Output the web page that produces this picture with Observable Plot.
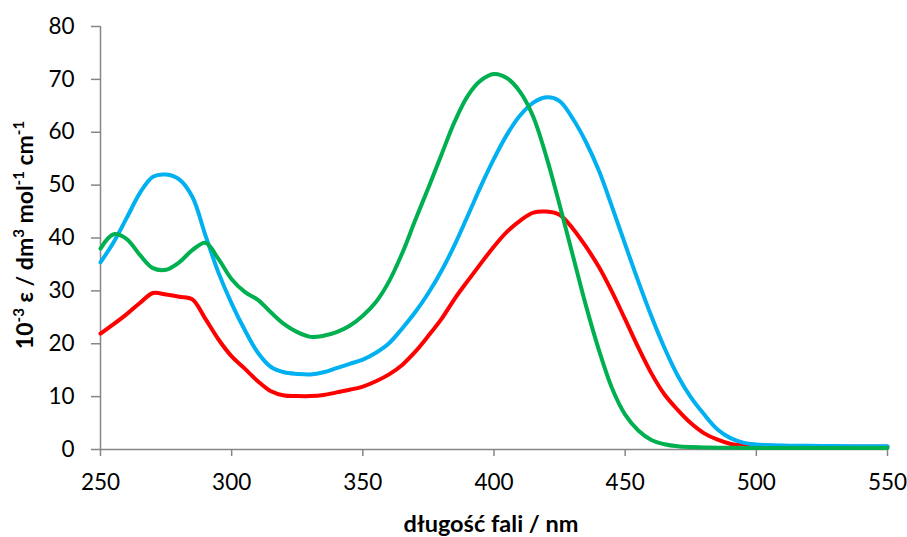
<!DOCTYPE html>
<html>
<head>
<meta charset="utf-8">
<script src="https://cdn.jsdelivr.net/npm/d3@7"></script>
<script src="https://cdn.jsdelivr.net/npm/@observablehq/plot@0.6"></script>
<style>
  html, body { margin: 0; padding: 0; background: #fff; }
  #chart svg { display: block; }
</style>
</head>
<body>
<div id="chart"></div>
<script>
// Wavelength grid (nm)
const wavelength = [250,255,260,265,270,275,280,285,290,295,300,305,310,315,320,325,330,335,340,345,350,355,360,365,370,375,380,385,390,395,400,405,410,415,420,425,430,435,440,445,450,455,460,465,470,475,480,485,490,495,500,510,520,530,540,550];

// 10^-3 ε values for each series
const blueSeries = [35.4,39.2,43.8,48.5,51.6,52.0,51.1,47.8,40.5,33.4,27.6,22.6,18.3,15.6,14.6,14.3,14.2,14.6,15.4,16.2,17.0,18.3,20.1,22.9,26.0,29.6,33.8,38.7,44.2,49.8,55.0,59.6,63.2,65.6,66.6,65.9,62.6,58.2,52.7,45.9,38.8,31.8,25.2,19.2,14.0,9.9,6.7,3.9,2.2,1.3,0.95,0.75,0.7,0.65,0.6,0.6];
const redSeries = [21.9,23.7,25.6,27.7,29.6,29.3,28.9,28.4,24.7,20.8,17.6,15.3,12.9,11.0,10.2,10.1,10.1,10.3,10.8,11.3,11.9,12.9,14.2,16.0,18.5,21.5,24.7,28.5,31.9,35.2,38.4,41.2,43.3,44.8,45.0,44.4,41.8,38.4,34.5,29.8,24.6,19.3,14.4,10.4,7.5,5.0,3.1,1.9,1.1,0.75,0.6,0.55,0.5,0.5,0.5,0.5];
const greenSeries = [38.0,40.7,39.8,36.8,34.3,34.0,35.4,37.7,39.1,36.0,32.2,29.8,28.3,25.9,23.7,22.2,21.3,21.5,22.2,23.4,25.3,27.9,31.8,37.1,43.4,49.5,55.8,62.0,66.9,69.8,71.0,70.2,67.6,62.9,55.3,46.3,36.8,27.3,18.8,11.6,6.6,3.6,1.8,1.0,0.6,0.45,0.4,0.35,0.35,0.3,0.3,0.3,0.3,0.3,0.3,0.3];

const xTicks = [250,300,350,400,450,500,550];
const yTicks = [0,10,20,30,40,50,60,70,80];

const xTitle = "długość fali / nm";

const toRows = (vals) => wavelength.map((w, i) => ({wl: w, v: vals[i]}));

const axisGray = "#868686";
const fontStack = "Lato, 'Open Sans', sans-serif";

const chart = Plot.plot({
  width: 907,
  height: 537,
  marginLeft: 100,
  marginRight: 20,
  marginTop: 26,
  marginBottom: 88,
  style: {fontFamily: fontStack, background: "#fff", color: "#000"},
  x: {domain: [250, 550]},
  y: {domain: [0, 80]},
  marks: [
    Plot.axisX({ticks: xTicks, tickSize: 7, tickPadding: 18, stroke: axisGray, fill: "#000", fontSize: 22.5, label: null, strokeWidth: 1.5}),
    Plot.axisY({ticks: yTicks, tickSize: 9, tickPadding: 17, stroke: axisGray, fill: "#000", fontSize: 22.5, label: null, strokeWidth: 1.5}),
    Plot.ruleY([0], {stroke: axisGray, strokeWidth: 1.5}),
    Plot.ruleX([250], {stroke: axisGray, strokeWidth: 1.5}),
    Plot.line(toRows(redSeries), {x: "wl", y: "v", stroke: "#FF0000", strokeWidth: 4, curve: "catmull-rom"}),
    Plot.line(toRows(blueSeries), {x: "wl", y: "v", stroke: "#00B0F0", strokeWidth: 4, curve: "catmull-rom"}),
    Plot.line(toRows(greenSeries), {x: "wl", y: "v", stroke: "#00B050", strokeWidth: 4, curve: "catmull-rom"})
  ]
});

document.getElementById("chart").appendChild(chart);

const svg = d3.select(chart);

// x-axis title
svg.append("text")
  .attr("x", 491)
  .attr("y", 532)
  .attr("text-anchor", "middle")
  .attr("font-family", fontStack)
  .attr("font-weight", "bold")
  .attr("font-size", 23.5)
  .attr("fill", "#000")
  .text(xTitle);

// y-axis title with superscripts
const yt = svg.append("text")
  .attr("transform", "translate(33,235) rotate(-90)")
  .attr("text-anchor", "middle")
  .attr("font-family", fontStack)
  .attr("font-weight", "bold")
  .attr("font-size", 23)
  .attr("fill", "#000");
const parts = [["10", false], ["-3", true], [" ε / dm", false], ["3", true], [" mol", false], ["-1", true], [" cm", false], ["-1", true]];
let up = false;
for (const [t, sup] of parts) {
  const ts = yt.append("tspan").text(t);
  if (sup && !up) { ts.attr("dy", -9).attr("font-size", 15); up = true; }
  else if (sup) { ts.attr("font-size", 15); }
  else if (!sup && up) { ts.attr("dy", 9); up = false; }
}
</script>
</body>
</html>
